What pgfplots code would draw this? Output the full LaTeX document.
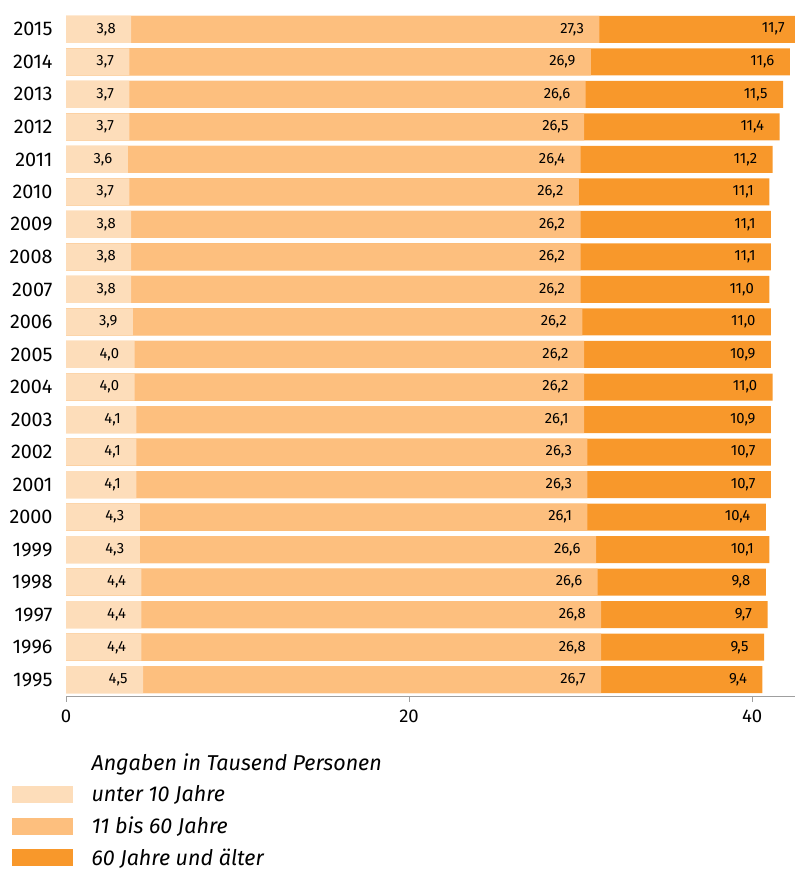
\documentclass[border=0pt]{standalone}
\usepackage{fontspec}
\setmainfont{Fira Sans}
\usepackage{pgfplots}
\usepackage{pgfplotstable}
\pgfplotsset{compat=1.18}
\definecolor{cA}{HTML}{FDDDBA}
\definecolor{cB}{HTML}{FDBF7E}
\definecolor{cC}{HTML}{F8982B}
\pgfplotstableread{
year a b c
1995 4.5 26.7 9.4
1996 4.4 26.8 9.5
1997 4.4 26.8 9.7
1998 4.4 26.6 9.8
1999 4.3 26.6 10.1
2000 4.3 26.1 10.4
2001 4.1 26.3 10.7
2002 4.1 26.3 10.7
2003 4.1 26.1 10.9
2004 4.0 26.2 11.0
2005 4.0 26.2 10.9
2006 3.9 26.2 11.0
2007 3.8 26.2 11.0
2008 3.8 26.2 11.1
2009 3.8 26.2 11.1
2010 3.7 26.2 11.1
2011 3.6 26.4 11.2
2012 3.7 26.5 11.4
2013 3.7 26.6 11.5
2014 3.7 26.9 11.6
2015 3.8 27.3 11.7
}\data
\pgfplotstablecreatecol[expr={\thisrow{a}+\thisrow{b}}]{ab}{\data}
\pgfplotstablecreatecol[expr={\thisrow{a}+\thisrow{b}+\thisrow{c}}]{abc}{\data}
\begin{document}
\begin{tikzpicture}
\useasboundingbox (0,0) rectangle (795bp,869bp);
\begin{axis}[
  at={(66bp,173bp)}, anchor=south west,
  scale only axis, width=729bp, height=683bp,
  xbar, bar width=27bp, bar shift=0pt,
  xmin=0, xmax=42.5, ymin=1994.5, ymax=2015.5,
  enlargelimits=false,
  ytick={1995,...,2015},
  xtick={0,20,40},
  /pgf/number format/.cd, 1000 sep={}, assume math mode=true,
  /pgfplots/.cd,
  axis lines*=left,
  y axis line style={draw=none},
  ytick style={draw=none},
  x axis line style={draw=gray!75, line width=0.8bp, -},
  xtick style={draw=gray!75, line width=0.8bp},
  tick align=outside,
  major tick length=6bp,
  xticklabel style={font=\fontsize{18.5bp}{20bp}\selectfont, yshift=-4bp},
  yticklabel style={font=\fontsize{19.8bp}{20bp}\selectfont, xshift=-4bp},
  nodes near coords,
  point meta=explicit,
  every node near coord/.append style={anchor=east, xshift=-12bp,
     font=\fontsize{14.8bp}{16bp}\selectfont, text=black,
     /pgf/number format/.cd, fixed, fixed zerofill, precision=1, use comma},
  legend style={at={(-57/729,-0.0787)}, anchor=north west, draw=none, fill=none,
     font=\itshape\fontsize{21.5bp}{24bp}\selectfont, row sep=9.5bp,
     nodes={inner ysep=2bp},
     /tikz/every odd column/.append style={column sep=17bp}},
  legend cell align=left,
  clip=false,
]
\addlegendimage{empty legend}
\addlegendentry{Angaben in Tausend Personen}
\addlegendimage{legend image code/.code={\fill[cA] (0bp,-8bp) rectangle (60bp,8bp);}}
\addlegendentry{unter 10 Jahre}
\addlegendimage{legend image code/.code={\fill[cB] (0bp,-8bp) rectangle (60bp,8bp);}}
\addlegendentry{11 bis 60 Jahre}
\addlegendimage{legend image code/.code={\fill[cC] (0bp,-8bp) rectangle (60bp,8bp);}}
\addlegendentry{60 Jahre und älter}
\addplot[fill=cC, draw=none] table[x=abc, y=year, meta=c] {\data};
\addplot[fill=cB, draw=none] table[x=ab, y=year, meta=b] {\data};
\addplot[fill=cA, draw=none] table[x=a, y=year, meta=a] {\data};
\end{axis}
\end{tikzpicture}
\end{document}
